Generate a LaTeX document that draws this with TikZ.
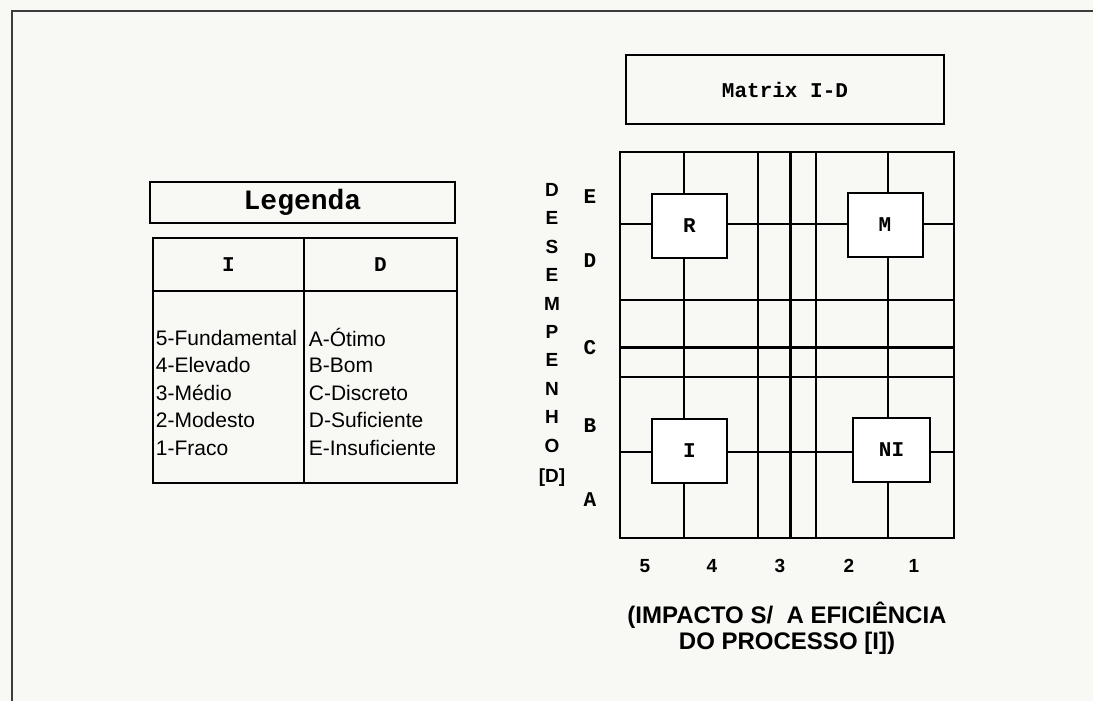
\documentclass[tikz,border=0pt]{standalone}
\usepackage{fontspec}
\setmainfont{Liberation Sans}
\setmonofont{Liberation Mono}
\usetikzlibrary{positioning}
\definecolor{papel}{RGB}{248,248,244}
\definecolor{moldura}{RGB}{60,60,60}

\begin{document}
\begin{tikzpicture}[x=1pt,y=-1pt,line width=1.8pt,
	caixa/.style={draw,line width=2pt,fill=white,minimum width=75pt,minimum height=64pt,inner sep=0pt,font=\fontsize{21}{21}\selectfont\ttfamily\bfseries},
	rot/.style={inner sep=0pt,font=\fontsize{21}{21}\selectfont\ttfamily\bfseries},
	item/.style={anchor=west,inner sep=0pt,font=\fontsize{21}{21}\selectfont},
	eixo/.style={inner sep=0pt,font=\fontsize{19}{19}\selectfont\bfseries}]
		
%		fundo e moldura
		\fill[papel] (0,0) rectangle (1093,701);
		\useasboundingbox (0,0) rectangle (1093,701);
		\draw[moldura,line width=2.5pt] (12,701) -- (12,11) -- (1093,11);
		
%		legenda
		\node[draw,line width=2.8pt,minimum width=305pt,minimum height=41pt,inner sep=0pt,font=\fontsize{28}{28}\selectfont\ttfamily\bfseries] (legenda) at (302.5,202.5) {Legenda};
		\draw (153,238) rectangle (457,483);
		\draw (304,238) -- (304,483);
		\draw (153,291) -- (457,291);
		\node[rot] (colI) at (228.5,264.5) {I};
		\node[rot] (colD) at (380.5,264.5) {D};
		\foreach \t [count=\i] in {5-Fundamental,4-Elevado,3-Médio,2-Modesto,1-Fraco}
			\node[item] (imp\i) at (155,{310+27.6*\i}) {\t};
		\foreach \t [count=\i] in {A-Ótimo,B-Bom,C-Discreto,D-Suficiente,E-Insuficiente}
			\node[item] (des\i) at (308,{310+27.6*\i}) {\t};
		
%		matriz
		\node[draw,line width=2.5pt,minimum width=318pt,minimum height=69pt,inner sep=0pt,font=\fontsize{21}{21}\selectfont\ttfamily\bfseries] (titulo) at (785,89.5) {Matrix I-D};
		
		\draw (620,152) rectangle (954,538);
		\foreach \x in {684,758,816,888}
			\draw (\x,152) -- (\x,538);
		\draw[line width=3pt] (790,152) -- (790,538);
		\foreach \y in {224,300,377,452}
			\draw (620,\y) -- (954,\y);
		\draw[line width=3pt] (620,347) -- (954,347);
		
		\node[caixa] (R) at (689.5,225.5) {R};
		\node[caixa] (M) at (885,224.5) {M};
		\node[caixa] (I) at (689.5,451) {I};
		\node[caixa,minimum width=77pt] (NI) at (891.5,450) {NI};
		
%		eixo D
		\foreach \t/\y in {E/197,D/261,C/348,B/426,A/500}
			\node[rot] (lin\t) at (590,\y) {\t};
		\foreach \l [count=\i] in {D,E,S,E,M,P,E,N,H,O}
			\node[eixo] (letra\i) at (552,{161.6+28.4*\i}) {\l};
		\node[eixo] (letraD) at (552,478) {[D]};
		
%		eixo I
		\foreach \n/\x in {5/645,4/712,3/780,2/849,1/914}
			\node[eixo] (col\n) at (\x,566) {\n};
		\node[eixo,align=center,font=\fontsize{24}{26}\selectfont\bfseries] (impacto) at (787,628) {(IMPACTO S/\ \ A EFICIÊNCIA\\DO PROCESSO [I])};
		\end{tikzpicture}
\end{document}
